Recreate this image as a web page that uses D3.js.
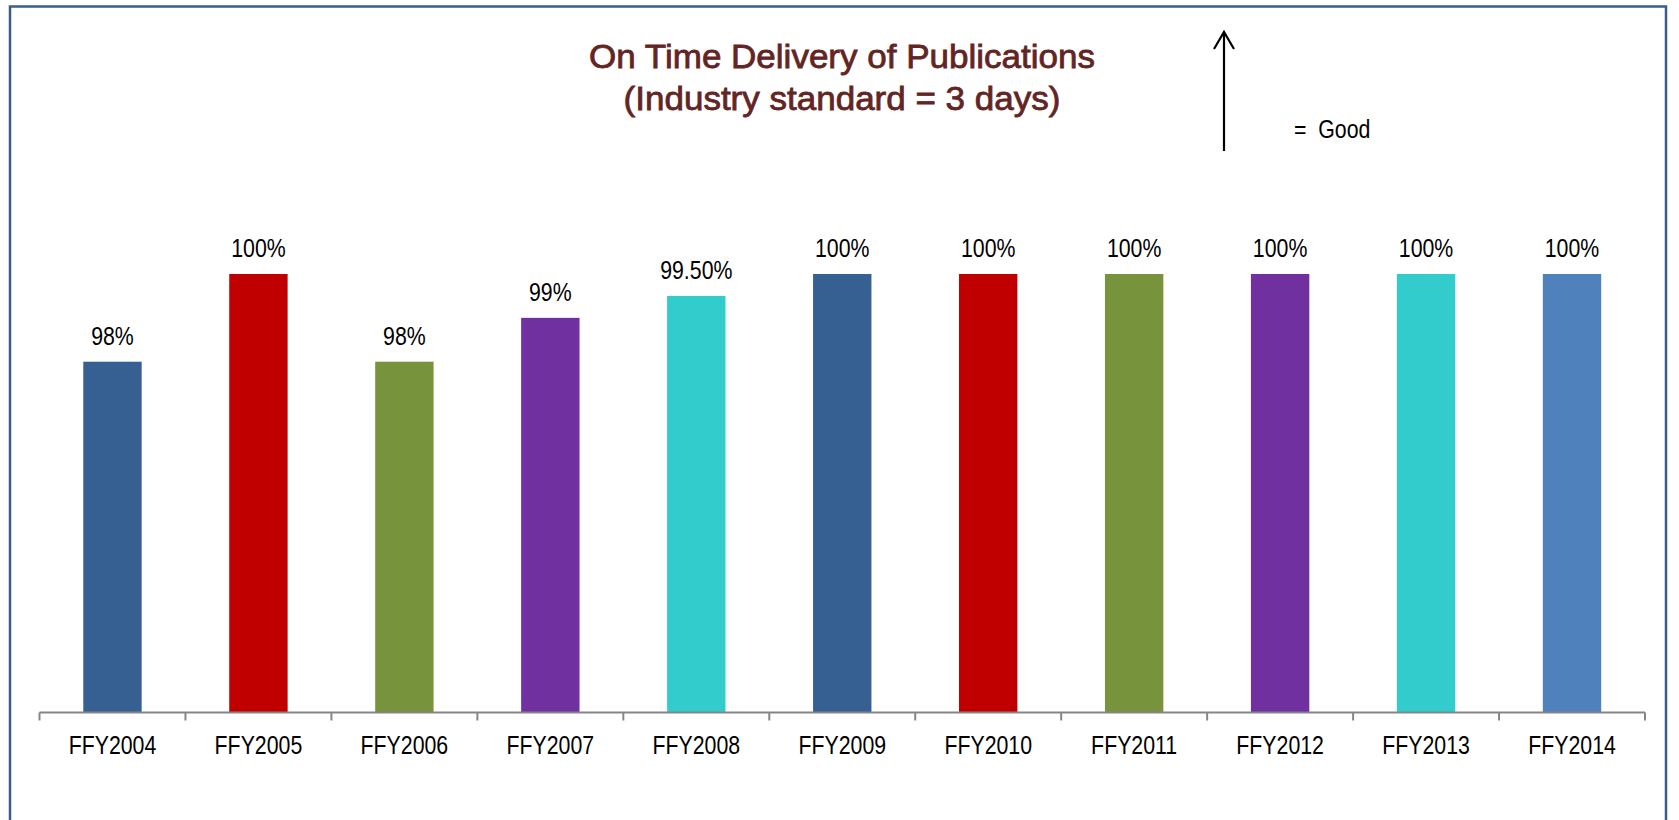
<!DOCTYPE html>
<html lang="en">
<head>
<meta charset="utf-8">
<title>On Time Delivery of Publications</title>
<script src="https://d3js.org/d3.v7.min.js"></script>
<style>
body { margin: 0; background: #fff; }
text { font-family: "Liberation Sans", Arial, sans-serif; }
</style>
</head>
<body>
<div id="chart"></div>
<script>
// chart data
var years = ["FFY2004", "FFY2005", "FFY2006", "FFY2007", "FFY2008", "FFY2009",
             "FFY2010", "FFY2011", "FFY2012", "FFY2013", "FFY2014"];
var values = [98, 100, 98, 99, 99.5, 100, 100, 100, 100, 100, 100];
var valueLabels = ["98%", "100%", "98%", "99%", "99.50%", "100%", "100%", "100%", "100%", "100%", "100%"];
var barColors = ["#376092", "#C00000", "#77933C", "#7030A0", "#33CCCC", "#376092",
                 "#C00000", "#77933C", "#7030A0", "#33CCCC", "#4F81BD"];

var width = 1679, height = 820;
var narrow = 0.82; // no narrow font installed, squeeze the regular one

var svg = d3.select("#chart")
  .append("svg")
  .attr("width", width)
  .attr("height", height);

// frame
svg.append("rect")
  .attr("x", 10)
  .attr("y", 6.5)
  .attr("width", 1656)
  .attr("height", 830)
  .attr("fill", "none")
  .attr("stroke", "#385D8A")
  .attr("stroke-width", 2.5);

var x = d3.scaleBand()
  .domain(years)
  .range([39.5, 1645])
  .paddingInner(0.6)
  .paddingOuter(0.3);

var y = d3.scaleLinear()
  .domain([90, 100])
  .range([712.5, 274]);

// bars
svg.append("g")
  .selectAll("rect")
  .data(years)
  .enter()
  .append("rect")
    .attr("x", function(d) { return x(d); })
    .attr("y", function(d, i) { return y(values[i]); })
    .attr("width", x.bandwidth())
    .attr("height", function(d, i) { return y(90) - y(values[i]); })
    .attr("fill", function(d, i) { return barColors[i]; });

// value labels
svg.append("g")
  .selectAll("text")
  .data(years)
  .enter()
  .append("text")
    .attr("transform", function(d, i) {
      return "translate(" + (x(d) + x.bandwidth() / 2) + "," + (y(values[i]) - 17) + ") scale(" + narrow + ",1)";
    })
    .attr("text-anchor", "middle")
    .attr("font-size", 26)
    .attr("fill", "#000")
    .text(function(d, i) { return valueLabels[i]; });

// x axis: labels at centers, ticks at category boundaries
var step = x.step();
var base = y(90);

svg.append("g")
  .selectAll("text")
  .data(years)
  .enter()
  .append("text")
    .attr("transform", function(d) {
      return "translate(" + (x(d) + x.bandwidth() / 2) + "," + (base + 41.5) + ") scale(" + narrow + ",1)";
    })
    .attr("text-anchor", "middle")
    .attr("font-size", 26)
    .attr("fill", "#000")
    .text(function(d) { return d; });

var bounds = years.map(function(d) { return x(d) - step * 0.3; });
bounds.push(x(years[years.length - 1]) + x.bandwidth() + step * 0.3);

svg.append("line")
  .attr("x1", bounds[0])
  .attr("x2", bounds[bounds.length - 1])
  .attr("y1", base)
  .attr("y2", base)
  .attr("stroke", "#868686")
  .attr("stroke-width", 2);

svg.append("g")
  .selectAll("line")
  .data(bounds)
  .enter()
  .append("line")
    .attr("x1", function(d) { return d; })
    .attr("x2", function(d) { return d; })
    .attr("y1", base)
    .attr("y2", base + 8)
    .attr("stroke", "#868686")
    .attr("stroke-width", 2);

// title
var title = svg.append("g")
  .attr("transform", "translate(842,68) scale(1.03,1)")
  .append("text")
  .attr("text-anchor", "middle")
  .attr("font-size", 34)
  .attr("fill", "#632523")
  .attr("stroke", "#632523")
  .attr("stroke-width", 0.8);
title.append("tspan").attr("x", 0).text("On Time Delivery of Publications");
title.append("tspan").attr("x", 0).attr("dy", 42).text("(Industry standard = 3 days)");

// "good" arrow
svg.append("line")
  .attr("x1", 1224)
  .attr("x2", 1224)
  .attr("y1", 151)
  .attr("y2", 33)
  .attr("stroke", "#000")
  .attr("stroke-width", 2.2);

svg.append("path")
  .attr("d", "M1214,49 L1224,32 L1234,49")
  .attr("fill", "none")
  .attr("stroke", "#000")
  .attr("stroke-width", 2.2);

svg.append("text")
  .attr("transform", "translate(1294,138) scale(" + narrow + ",1)")
  .attr("font-size", 26)
  .attr("fill", "#000")
  .attr("xml:space", "preserve")
  .text("=  Good");
</script>
</body>
</html>
